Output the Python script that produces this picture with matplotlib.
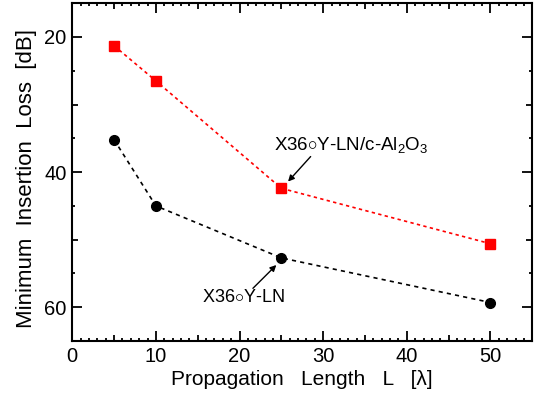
import matplotlib
matplotlib.use('Agg')
import matplotlib.pyplot as plt
from matplotlib.ticker import MultipleLocator, FixedLocator

plt.rcParams['font.family'] = ['Liberation Sans', 'DejaVu Sans']
plt.rcParams['mathtext.fontset'] = 'custom'
plt.rcParams['mathtext.rm'] = 'Liberation Sans'
plt.rcParams['mathtext.it'] = 'Liberation Sans'

# data
length = [5, 10, 25, 50]
loss_sapphire = [21.3, 26.5, 42.4, 50.6]
loss_ln = [35.2, 45.0, 52.7, 59.3]

label_sapphire = 'X36${\\circ}$Y-LN/c-Al$_2$O$_3$'
label_ln = 'X36${\\circ}$Y-LN'

fig = plt.figure(figsize=(5.35, 3.97), dpi=100)
ax = fig.add_axes([0.135, 0.141, 0.86, 0.851])

ax.plot(length, loss_sapphire, color='red', ls=(0, (2, 2)), lw=1.2,
        marker='s', ms=6.5, mec='red', mfc='red')
ax.plot(length, loss_ln, color='black', ls=(0, (2.5, 2.5)), lw=1.2,
        marker='o', ms=7, mec='black', mfc='black')

ax.set_xlim(0, 55)
ax.set_ylim(65, 15)

# x ticks: labelled every 10, medium at 5, minor every 1
xt = list(range(0, 56, 5))
ax.xaxis.set_major_locator(FixedLocator(xt))
ax.set_xticklabels([str(v) if v % 10 == 0 else '' for v in xt])
ax.xaxis.set_minor_locator(MultipleLocator(1))
# y ticks: labelled every 20, medium at 30/50, minor every 5
yt = [20, 30, 40, 50, 60]
ax.yaxis.set_major_locator(FixedLocator(yt))
ax.set_yticklabels([str(v) if v % 20 == 0 else '' for v in yt])
ax.yaxis.set_minor_locator(MultipleLocator(5))

ax.tick_params(which='both', direction='in', top=True, right=True,
               width=1.3, labelsize=14.5)
ax.tick_params(which='major', length=7.5, pad=4)
ax.tick_params(which='minor', length=2.5)

fig.canvas.draw()
for tick, v in zip(ax.xaxis.get_major_ticks(), xt):
    if v % 10:
        tick.tick1line.set_markersize(4)
        tick.tick2line.set_markersize(4)
for tick, v in zip(ax.yaxis.get_major_ticks(), yt):
    if v % 20:
        tick.tick1line.set_markersize(4.5)
        tick.tick2line.set_markersize(4.5)

for s in ax.spines.values():
    s.set_linewidth(1.5)

ax.set_xlabel('Propagation   Length   L   [\u03bb]', fontsize=15, labelpad=3)
ax.set_ylabel('Minimum  Insertion  Loss  [dB]', fontsize=16)
ax.yaxis.set_label_coords(-0.077, 0.481)

ax.annotate('', xy=(25.8, 41.4), xytext=(28.5, 37.7),
            arrowprops=dict(arrowstyle='-|>', color='black', lw=1,
                            mutation_scale=9, shrinkA=0, shrinkB=0))
ax.text(33.3, 36.0, label_sapphire, fontsize=13.5, ha='center', va='center')

ax.annotate('', xy=(24.4, 53.75), xytext=(21.6, 57.2),
            arrowprops=dict(arrowstyle='-|>', color='black', lw=1,
                            mutation_scale=9, shrinkA=0, shrinkB=0))
ax.text(20.4, 58.6, label_ln, fontsize=13, ha='center', va='center')

fig.savefig('out.png', dpi=100)
